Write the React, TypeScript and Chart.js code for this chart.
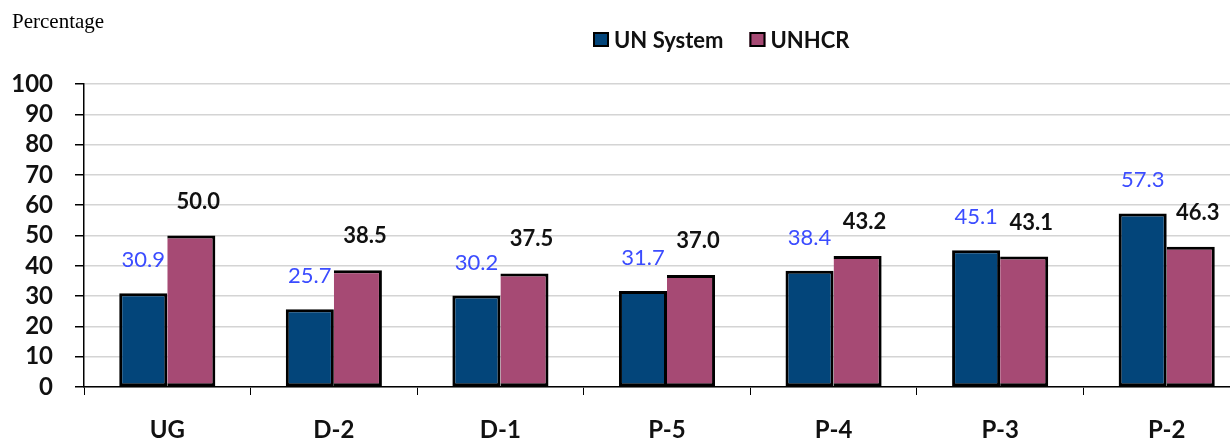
import React, { useEffect, useRef } from 'react';
import { Chart, registerables } from 'chart.js';

Chart.register(...registerables);

const categories = ['UG', 'D-2', 'D-1', 'P-5', 'P-4', 'P-3', 'P-2'];
const unSystem = [30.9, 25.7, 30.2, 31.7, 38.4, 45.1, 57.3];
const unhcr = [50.0, 38.5, 37.5, 37.0, 43.2, 43.1, 46.3];
const seriesNames = ['UN System', 'UNHCR'];
const axisCaption = 'Percentage';
const yMin = 0;
const yMax = 100;
const yStep = 10;

const BLUE = '#03457a';
const PINK = '#a64a74';
const LABEL_BLUE = '#3b4cff';
const FONT = 'Lato, "Open Sans", sans-serif';

const overlayPlugin = {
  id: 'overlay',
  afterDatasetsDraw(chart: any) {
    const ctx = chart.ctx;
    ctx.save();
    chart.data.datasets.forEach((ds: any, di: number) => {
      const meta = chart.getDatasetMeta(di);
      meta.data.forEach((bar: any, i: number) => {
        const v = ds.data[i];
        const txt = v.toFixed(1);
        ctx.textAlign = 'center';
        ctx.textBaseline = 'middle';
        if (di === 0) {
          ctx.font = `400 22px ${FONT}`;
          ctx.fillStyle = LABEL_BLUE;
          ctx.fillText(txt, bar.x, bar.y - 33);
        } else {
          ctx.font = `700 22px ${FONT}`;
          ctx.fillStyle = '#111';
          ctx.fillText(txt, bar.x + 7, bar.y - 34);
        }
      });
    });
    ctx.restore();
  },
  afterDraw(chart: any) {
    const ctx = chart.ctx;
    ctx.save();
    ctx.font = '21px "Liberation Serif", "Times New Roman", serif';
    ctx.fillStyle = '#000';
    ctx.textAlign = 'left';
    ctx.textBaseline = 'alphabetic';
    ctx.fillText(axisCaption, 12, 28);
    ctx.font = `700 22px ${FONT}`;
    ctx.textBaseline = 'middle';
    let x = 593;
    const colors = [BLUE, PINK];
    seriesNames.forEach((name, i) => {
      ctx.fillStyle = colors[i];
      ctx.fillRect(x, 32, 16, 15);
      ctx.strokeStyle = '#000';
      ctx.lineWidth = 2;
      ctx.strokeRect(x + 1, 33, 14, 13);
      ctx.fillStyle = '#111';
      ctx.fillText(name, x + 21, 41);
      x = x + 21 + ctx.measureText(name).width + 26;
    });
    ctx.restore();
  },
};

export default function App() {
  const ref = useRef<HTMLCanvasElement>(null);
  useEffect(() => {
    if (!ref.current) return;
    const chart = new Chart(ref.current, {
      type: 'bar',
      data: {
        labels: categories,
        datasets: [
          {
            label: seriesNames[0],
            data: unSystem,
            backgroundColor: BLUE,
            borderColor: '#000',
            borderWidth: 3,
            borderSkipped: false,
            categoryPercentage: 0.577,
            barPercentage: 1,
          },
          {
            label: seriesNames[1],
            data: unhcr,
            backgroundColor: PINK,
            borderColor: '#000',
            borderWidth: 3,
            borderSkipped: 'left',
            categoryPercentage: 0.577,
            barPercentage: 1,
          },
        ],
      },
      options: {
        responsive: false,
        animation: false,
        events: [],
        layout: { padding: { top: 84, right: 12, bottom: 0, left: 0 } },
        plugins: { legend: { display: false }, title: { display: false }, tooltip: { enabled: false } },
        scales: {
          x: {
            offset: true,
            grid: {
              display: true,
              drawOnChartArea: false,
              drawTicks: true,
              tickLength: 8,
              color: '#000',
              tickColor: '#000',
              offset: true,
            },
            border: { display: true, color: '#000', width: 1.5 },
            ticks: {
              font: { family: FONT, weight: 'bold', size: 24 },
              color: '#111',
              padding: 21,
              maxRotation: 0,
              autoSkip: false,
            },
            afterFit(scale: any) {
              scale.height = 51;
            },
          },
          y: {
            min: yMin,
            max: yMax,
            ticks: {
              stepSize: yStep,
              autoSkip: false,
              font: { family: FONT, weight: 'bold', size: 24 },
              color: '#111',
              padding: 22,
            },
            grid: {
              color: '#d4d4d4',
              lineWidth: 1.5,
              tickColor: '#000',
              tickLength: 9,
              drawTicks: true,
            },
            border: { display: true, color: '#000', width: 1.5 },
            afterFit(scale: any) {
              scale.width = 84;
            },
          },
        },
      },
      plugins: [overlayPlugin],
    } as any);
    return () => chart.destroy();
  }, []);

  return (
    <div
      style={{
        position: 'fixed',
        left: 0,
        top: 0,
        width: 1230,
        height: 438,
        overflow: 'hidden',
        background: '#fff',
      }}
    >
      <canvas ref={ref} width={1262} height={438} style={{ display: 'block' }} />
    </div>
  );
}
